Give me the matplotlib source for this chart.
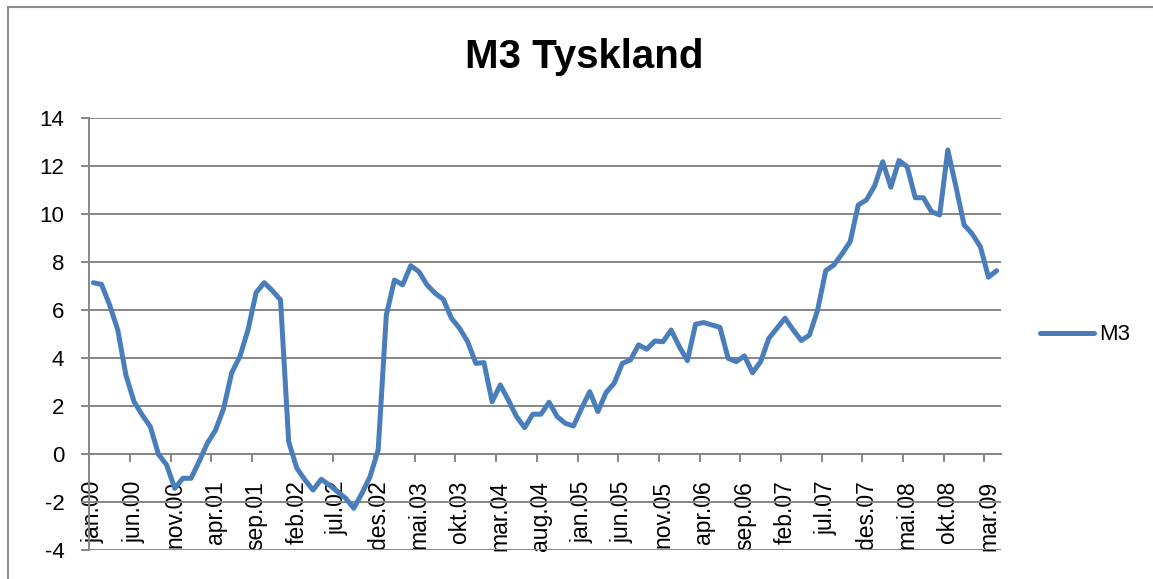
import matplotlib
matplotlib.use("Agg")
import matplotlib.pyplot as plt
from matplotlib.lines import Line2D

months = ["jan", "feb", "mar", "apr", "mai", "jun", "jul", "aug", "sep", "okt", "nov", "des"]
years = ["00", "01", "02", "03", "04", "05", "06", "07", "08", "09"]
categories = [f"{m}.{y}" for y in years for m in months][:112]

m3 = [7.15, 7.08, 6.22, 5.18, 3.30, 2.19, 1.64, 1.15, 0.00, -0.44,
      -1.42, -1.00, -1.00, -0.30, 0.46, 1.00, 1.90, 3.40, 4.07, 5.18,
      6.74, 7.15, 6.82, 6.43, 0.53, -0.58, -1.07, -1.49, -1.04, -1.28,
      -1.56, -1.83, -2.25, -1.63, -0.93, 0.18, 5.80, 7.26, 7.06, 7.86,
      7.61, 7.06, 6.71, 6.46, 5.67, 5.25, 4.69, 3.79, 3.82, 2.19,
      2.89, 2.26, 1.57, 1.11, 1.67, 1.67, 2.17, 1.57, 1.29, 1.18,
      1.92, 2.61, 1.78, 2.57, 2.96, 3.79, 3.93, 4.56, 4.38, 4.72,
      4.69, 5.18, 4.49, 3.90, 5.42, 5.49, 5.39, 5.29, 4.00, 3.86,
      4.10, 3.40, 3.86, 4.83, 5.25, 5.67, 5.18, 4.74, 4.97, 6.01,
      7.65, 7.89, 8.35, 8.86, 10.39, 10.60, 11.18, 12.19, 11.13, 12.24,
      11.99, 10.69, 10.69, 10.11, 9.97, 12.68, 11.15, 9.56, 9.18, 8.65,
      7.38, 7.65]

title = "M3 Tyskland"
series_name = "M3"
y_ticks = [-4, -2, 0, 2, 4, 6, 8, 10, 12, 14]

plt.rcParams['font.family'] = ['Liberation Sans', 'DejaVu Sans']

W, H = 1153, 579
fig = plt.figure(figsize=(W / 100, H / 100), dpi=100)
fig.patch.set_facecolor("white")

# outer chart border (left and top visible)
border_col = "#8c8c8c"
fig.add_artist(Line2D([8 / W, 8 / W], [0, 1 - 7 / H], transform=fig.transFigure,
                      color=border_col, lw=1.5))
fig.add_artist(Line2D([8 / W, 1], [1 - 7 / H, 1 - 7 / H], transform=fig.transFigure,
                      color=border_col, lw=1.5))

left, right, top, bottom = 89.3, 1000.7, 118.3, 550.3
ax = fig.add_axes([left / W, 1 - bottom / H, (right - left) / W, (bottom - top) / H])

x = list(range(len(m3)))
ax.plot(x, m3, color="#4a7ebb", lw=3.6, solid_joinstyle="round",
        solid_capstyle="round", label=series_name, zorder=3)

ax.set_xlim(-0.5, len(m3) - 0.5)
ax.set_ylim(-4, 14)

grid_col = "#868686"
ax.set_yticks(y_ticks)
ax.set_yticklabels([str(v) for v in y_ticks])
ax.yaxis.grid(True, color=grid_col, lw=1.4)
ax.set_axisbelow(True)

for s in ["top", "right"]:
    ax.spines[s].set_visible(False)
ax.spines["left"].set_color(grid_col)
ax.spines["left"].set_linewidth(1.4)
ax.spines["bottom"].set_position(("data", 0))
ax.spines["bottom"].set_color(grid_col)
ax.spines["bottom"].set_linewidth(1.4)

ax.tick_params(axis="y", length=6, width=1.4, color=grid_col, labelsize=16, pad=12)

label_pos = list(range(0, len(m3), 5))
ax.set_xticks(label_pos)
ax.set_xticklabels([categories[i] for i in label_pos], rotation=90, va="top", ha="center")
ax.tick_params(axis="x", which="major", length=0, labelsize=16.5, pad=19)
ax.set_xticks([p - 0.5 for p in label_pos], minor=True)
ax.tick_params(axis="x", which="minor", length=6, width=1.4, color=grid_col, direction="out")

fig.text(584 / W, 1 - 57 / H, title, ha="center", va="center",
         fontsize=29, fontweight="bold")

ax.legend(loc="center left", bbox_to_anchor=(1040 / W, 1 - 335 / H),
          bbox_transform=fig.transFigure, frameon=False, fontsize=16,
          handlelength=2.45, handletextpad=0.2, borderaxespad=0, borderpad=0)

fig.savefig("out.png", dpi=100, facecolor="white")
